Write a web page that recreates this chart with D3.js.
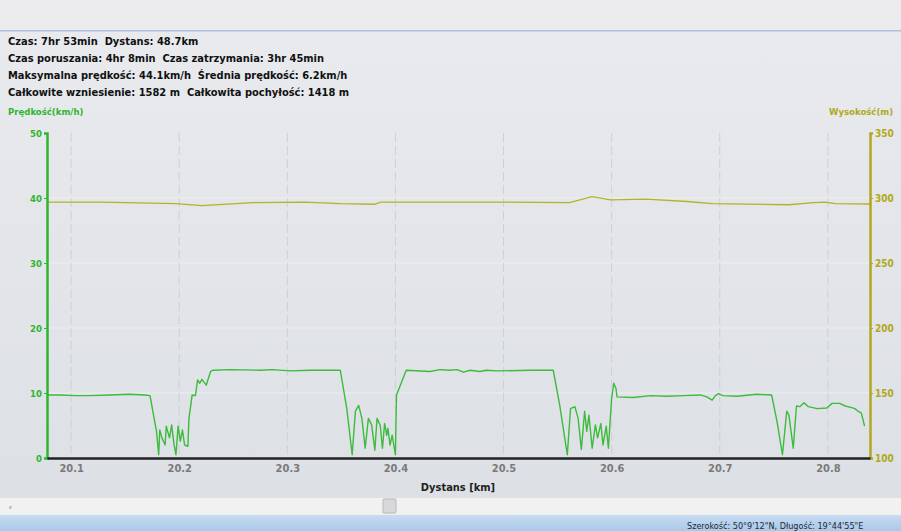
<!DOCTYPE html>
<html><head><meta charset="utf-8">
<script src="https://cdn.jsdelivr.net/npm/d3@7"></script>
<style>
html,body{margin:0;padding:0;background:#e6e8ec;overflow:hidden}
svg{display:block}
text{white-space:pre}
</style></head>
<body>
<svg id="c" width="901" height="531"></svg>
<script>
// ---- data ----
const summaryLines = [
  "Czas: 7hr 53min  Dystans: 48.7km",
  "Czas poruszania: 4hr 8min  Czas zatrzymania: 3hr 45min",
  "Maksymalna prędkość: 44.1km/h  Średnia prędkość: 6.2km/h",
  "Całkowite wzniesienie: 1582 m  Całkowita pochyłość: 1418 m"
];
const speedTicks = [0, 10, 20, 30, 40, 50];
const elevTicks = [100, 150, 200, 250, 300, 350];
const distTicks = [20.1, 20.2, 20.3, 20.4, 20.5, 20.6, 20.7, 20.8];

const speedDist = [20.078,20.090,20.104,20.117,20.136,20.154,20.168,20.173,20.179,20.181,20.182,20.184,20.187,20.188,20.191,20.193,20.195,20.197,20.199,20.201,20.203,20.205,20.208,20.209,20.212,20.215,20.217,20.219,20.221,20.225,20.229,20.231,20.247,20.275,20.286,20.303,20.321,20.340,20.349,20.355,20.360,20.363,20.366,20.369,20.372,20.375,20.378,20.381,20.383,20.386,20.388,20.390,20.392,20.393,20.395,20.397,20.400,20.401,20.406,20.410,20.432,20.441,20.450,20.457,20.463,20.469,20.478,20.484,20.494,20.525,20.546,20.552,20.559,20.562,20.566,20.569,20.572,20.575,20.577,20.579,20.582,20.585,20.587,20.590,20.592,20.595,20.597,20.600,20.602,20.604,20.605,20.620,20.636,20.651,20.667,20.682,20.688,20.693,20.696,20.699,20.703,20.716,20.734,20.748,20.753,20.758,20.762,20.764,20.768,20.771,20.774,20.778,20.782,20.790,20.799,20.804,20.811,20.816,20.822,20.825,20.828,20.831,20.834];
const speedVal = [9.7,9.7,9.6,9.6,9.7,9.8,9.7,9.6,4.1,0.5,4.3,3.1,2.0,4.9,3.1,5.1,2.3,0.5,4.9,2.6,4.3,2.0,1.8,6.1,9.7,9.6,12.0,11.5,12.1,11.2,13.3,13.5,13.6,13.5,13.6,13.4,13.5,13.5,13.5,7.6,0.5,7.2,8.1,6.1,1.5,6.1,5.1,1.2,6.1,5.0,1.5,5.3,3.5,4.6,2.0,3.5,0.5,9.7,11.8,13.5,13.3,13.6,13.5,13.6,13.2,13.5,13.3,13.5,13.4,13.5,13.5,8.1,0.5,7.6,7.9,6.1,1.3,7.2,4.1,6.6,1.5,5.1,3.1,5.3,2.0,4.9,1.5,9.2,11.5,10.7,9.4,9.3,9.6,9.5,9.6,9.7,9.4,8.9,9.6,9.9,9.6,9.5,9.8,9.7,5.6,0.5,7.2,6.6,1.5,8.0,7.9,8.5,7.9,7.6,7.7,8.4,8.4,8.0,7.75,7.6,7.2,6.9,4.9];

const elevDist = [20.078,20.127,20.197,20.221,20.268,20.316,20.349,20.381,20.386,20.504,20.561,20.582,20.599,20.632,20.670,20.693,20.764,20.787,20.797,20.807,20.839];
const elevVal = [296.8,296.9,295.6,294.2,296.5,296.9,295.6,295.2,296.9,296.9,296.5,301.1,298.6,299.1,297.3,295.6,294.8,296.5,296.9,295.6,295.4];

// ---- layout ----
const svg = d3.select("#c");
const W = 901, H = 531;
const L = 47, R = 870, T = 133, B = 458;
const green = "#3dbb3d", axisGreen = "#2fb52f", olive = "#b3b32a", axisOlive = "#b0a820";
const condensed = "DejaVu Sans Condensed, Liberation Sans Narrow, sans-serif";

const defs = svg.append("defs");
const bg = defs.append("linearGradient").attr("id","bg").attr("x1",0).attr("y1",0).attr("x2",0).attr("y2",1);
bg.append("stop").attr("offset","0").attr("stop-color","#e9ebee");
bg.append("stop").attr("offset","1").attr("stop-color","#dcdfe4");

svg.append("rect").attr("x",0).attr("y",0).attr("width",W).attr("height",H).attr("fill","url(#bg)");
// top strip
svg.append("rect").attr("x",0).attr("y",0).attr("width",W).attr("height",30).attr("fill","#ebebee");
svg.append("rect").attr("x",0).attr("y",30).attr("width",W).attr("height",1.5).attr("fill","#a9c3dc");

const x = d3.scaleLinear().domain([20.0777, 20.839]).range([L, R]);
const yS = d3.scaleLinear().domain([0, 50]).range([B, T]);
const yE = d3.scaleLinear().domain([100, 350]).range([B, T]);

// faint horizontal bands
svg.append("g").selectAll("line").data(speedTicks.slice(1,5)).join("line")
  .attr("x1",L).attr("x2",R).attr("y1",d=>yS(d)).attr("y2",d=>yS(d))
  .attr("stroke","#eef0f2").attr("stroke-width",1.2);

// vertical dashed grid
svg.append("g").selectAll("line").data(distTicks).join("line")
  .attr("x1",d=>x(d)).attr("x2",d=>x(d)).attr("y1",T).attr("y2",B)
  .attr("stroke","#cdd0d4").attr("stroke-width",1).attr("stroke-dasharray","9,4");

// summary text
svg.append("g").selectAll("text").data(summaryLines).join("text")
  .attr("x",8).attr("y",(d,i)=>45+i*17)
  .attr("font-family",condensed).attr("font-weight","bold")
  .attr("font-size","11px").attr("fill","#111").text(d=>d);

svg.append("text").attr("x",8).attr("y",115).attr("font-family",condensed)
  .attr("font-weight","bold").attr("font-size","9.5px").attr("fill",axisGreen).text("Prędkość(km/h)");
svg.append("text").attr("x",829).attr("y",115).attr("font-family",condensed)
  .attr("font-weight","bold").attr("font-size","9.5px").attr("fill",axisOlive).text("Wysokość(m)");

// elevation line
svg.append("path").datum(elevDist.map((d,i)=>[d, elevVal[i]]))
  .attr("fill","none").attr("stroke",olive).attr("stroke-width",1.3)
  .attr("d", d3.line().x(d=>x(d[0])).y(d=>yE(d[1])));

// speed line
svg.append("path").datum(speedDist.map((d,i)=>[d, speedVal[i]]))
  .attr("fill","none").attr("stroke",green).attr("stroke-width",1.4).attr("stroke-linejoin","round")
  .attr("d", d3.line().x(d=>x(d[0])).y(d=>yS(d[1])));

// left axis
const gl = svg.append("g").attr("transform",`translate(${L},0)`)
  .call(d3.axisLeft(yS).tickValues(speedTicks).tickSize(3).tickFormat(d3.format("d")));
gl.select(".domain").attr("stroke",axisGreen).attr("stroke-width",2.5);
gl.selectAll(".tick line").attr("stroke",axisGreen);
gl.selectAll(".tick text").attr("fill",axisGreen).attr("font-family",condensed)
  .attr("font-weight","bold").attr("font-size","9.5px").attr("dx","1");

// right axis
const gr = svg.append("g").attr("transform",`translate(${R},0)`)
  .call(d3.axisRight(yE).tickValues(elevTicks).tickSize(3).tickFormat(d3.format("d")));
gr.select(".domain").attr("stroke",axisOlive).attr("stroke-width",2.5);
gr.selectAll(".tick line").attr("stroke",axisOlive);
gr.selectAll(".tick text").attr("fill",axisOlive).attr("font-family",condensed)
  .attr("font-weight","bold").attr("font-size","10px").attr("dx","-1");

// bottom axis
const gb = svg.append("g").attr("transform",`translate(0,${B})`)
  .call(d3.axisBottom(x).tickValues(distTicks).tickSize(0).tickFormat(d3.format(".1f")));
gb.select(".domain").attr("stroke","#222").attr("stroke-width",2.5);
gb.selectAll(".tick text").attr("fill","#7a7a7a").attr("font-family",condensed)
  .attr("font-weight","bold").attr("font-size","11px").attr("dy","1.0em");

svg.append("text").attr("x",458).attr("y",491).attr("text-anchor","middle")
  .attr("font-family",condensed).attr("font-weight","bold")
  .attr("font-size","11px").attr("fill","#222").text("Dystans [km]");

// scrollbar
svg.append("rect").attr("x",0).attr("y",497).attr("width",W).attr("height",18).attr("fill","#f1f1f2");
svg.append("line").attr("x1",0).attr("x2",W).attr("y1",497.5).attr("y2",497.5).attr("stroke","#e0e0e2");
svg.append("rect").attr("x",383).attr("y",499).attr("width",13).attr("height",14).attr("rx",1)
  .attr("fill","#d8d8da").attr("stroke","#b8b8bb");
svg.append("text").attr("x",9).attr("y",510).attr("font-size","8px").attr("fill","#666")
  .attr("font-family","Liberation Sans, sans-serif").text("‹");

// status bar
const sb = defs.append("linearGradient").attr("id","sb").attr("x1",0).attr("y1",0).attr("x2",0).attr("y2",1);
sb.append("stop").attr("offset","0").attr("stop-color","#c7dcf1");
sb.append("stop").attr("offset","1").attr("stop-color","#a9c8e8");
svg.append("rect").attr("x",0).attr("y",515).attr("width",W).attr("height",16).attr("fill","url(#sb)");
svg.append("text").attr("x",687).attr("y",529).attr("font-family",condensed)
  .attr("font-size","9px").attr("fill","#1a2a40").text("Szerokość: 50°9'12\"N, Długość: 19°44'55\"E");
</script>
</body></html>
